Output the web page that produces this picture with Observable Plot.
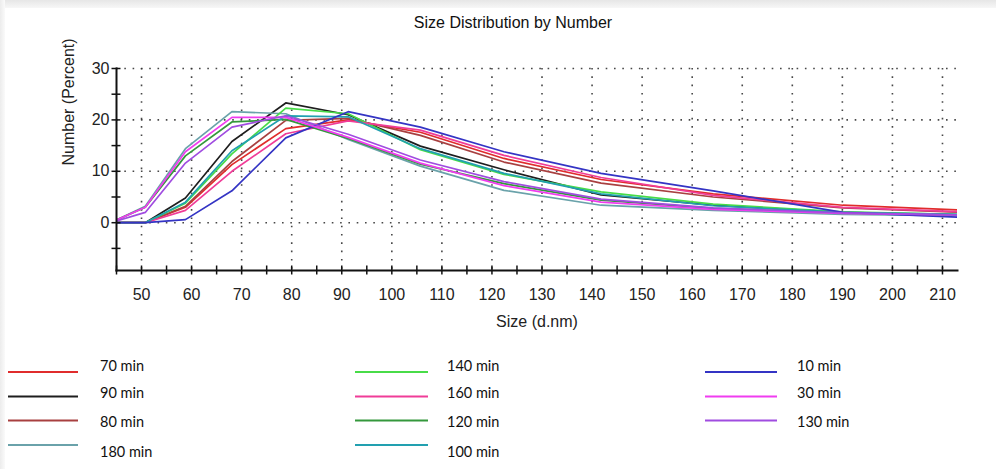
<!DOCTYPE html>
<html>
<head>
<meta charset="utf-8">
<script src="https://cdn.jsdelivr.net/npm/d3@7"></script>
<script src="https://cdn.jsdelivr.net/npm/@observablehq/plot@0.6"></script>
<style>
  html, body { margin: 0; padding: 0; background: #fff; width: 996px; height: 469px; overflow: hidden; }
  #topband { position: absolute; left: 0; top: 0; width: 996px; height: 8px; background: linear-gradient(#e6e6e6, #f7f7f7); }
  #leftband { position: absolute; left: 0; top: 0; width: 5px; height: 469px; background: linear-gradient(90deg, #ececec, #fafafa); }
  #chart { position: absolute; left: 0; top: 0; }
  #legend { position: absolute; left: 0; top: 340px; }
</style>
</head>
<body>
<div id="topband"></div>
<div id="leftband"></div>
<div id="chart"></div>
<div id="legend"></div>
<script>
// Size bins (d.nm)
const sizes = [43.82, 50.75, 58.77, 68.06, 78.82, 91.28, 105.7, 122.4, 141.8, 164.2, 190.1, 220.2];

// Number (%) per series
const min70  = [0, 0, 3.0, 11.3, 18.3, 20.0, 17.6, 12.5, 8.4, 5.6, 3.4, 2.2];
const min90  = [0, 0, 4.8, 15.8, 23.3, 21.0, 14.9, 10.3, 5.4, 3.4, 2.0, 1.4];
const min80  = [0, 0, 3.2, 11.9, 19.9, 20.3, 17.0, 11.8, 7.7, 5.0, 2.9, 1.8];
const min180 = [0, 3.2, 14.4, 21.6, 21.2, 16.2, 11.0, 6.3, 3.4, 2.4, 1.6, 1.3];
const min140 = [0, 0, 3.8, 13.4, 22.3, 21.2, 14.2, 9.4, 6.0, 3.6, 2.1, 1.5];
const min160 = [0, 0, 2.4, 10.0, 17.3, 19.8, 18.0, 13.1, 8.8, 5.3, 3.0, 1.9];
const min120 = [0, 3.0, 13.0, 19.6, 20.1, 16.4, 11.4, 7.6, 4.4, 2.8, 1.9, 1.4];
const min100 = [0, 0, 4.0, 14.0, 20.8, 20.6, 14.4, 9.6, 5.6, 3.3, 2.0, 1.5];
const min10  = [0, 0, 0.6, 6.2, 16.5, 21.6, 18.6, 13.8, 9.6, 6.2, 2.0, 0.8];
const min30  = [0, 3.0, 13.8, 20.5, 20.5, 16.6, 11.6, 7.2, 4.0, 2.6, 1.8, 1.4];
const min130 = [0, 2.0, 11.6, 18.6, 20.8, 17.2, 12.2, 8.0, 4.6, 2.9, 1.9, 1.4];

const seriesNames = ["70 min", "90 min", "80 min", "180 min", "140 min", "160 min", "120 min", "100 min", "10 min", "30 min", "130 min"];
const seriesValues = [min70, min90, min80, min180, min140, min160, min120, min100, min10, min30, min130];
const seriesColors = ["#e02c2c", "#1e1e1e", "#a84040", "#6aa2aa", "#48dc48", "#f03c98", "#34983c", "#22a0b0", "#3434c4", "#f03cf0", "#a04ce0"];

const xTickLabels = [50, 60, 70, 80, 90, 100, 110, 120, 130, 140, 150, 160, 170, 180, 190, 200, 210];
const yTickLabels = [0, 10, 20, 30];

const data = [];
seriesNames.forEach((name, i) => {
  seriesValues[i].forEach((v, j) => data.push({series: name, size: sizes[j], value: v}));
});

const font = "'Liberation Sans', Arial, sans-serif";
const xDomain = [45, 213];
const yDomain = [-9.3, 30];
const xMinor = d3.range(45, 213.1, 5);
const yMinor = d3.range(-5, 30.1, 5);

const chart = Plot.plot({
  width: 996,
  height: 340,
  marginLeft: 116,
  marginRight: 39,
  marginTop: 68,
  marginBottom: 70,
  style: {fontFamily: font, fontSize: "16px", color: "#222", background: "transparent"},
  x: {domain: xDomain},
  y: {domain: yDomain},
  color: {domain: seriesNames, range: seriesColors},
  marks: [
    Plot.gridX(xTickLabels, {stroke: "#333", strokeOpacity: 0.9, strokeWidth: 1.6, strokeDasharray: "1.6,6.7"}),
    Plot.gridY(yTickLabels, {stroke: "#333", strokeOpacity: 0.9, strokeWidth: 1.6, strokeDasharray: "1.6,6.7"}),
    Plot.line(data, {x: "size", y: "value", z: "series", stroke: "series", strokeWidth: 1.7, clip: true}),
    Plot.frame({anchor: "left", stroke: "#111", strokeWidth: 2}),
    Plot.frame({anchor: "bottom", stroke: "#111", strokeWidth: 2}),
    Plot.axisX({ticks: xMinor, tickSize: 9, dy: -4.5, tickFormat: () => "", stroke: "#111", strokeWidth: 1.5, label: null}),
    Plot.axisY({ticks: yMinor, tickSize: 9, dx: 4.5, tickFormat: () => "", stroke: "#111", strokeWidth: 1.5, label: null}),
    Plot.axisX({ticks: xTickLabels, tickSize: 0, tickPadding: 18, fontSize: 16, label: null}),
    Plot.axisY({ticks: yTickLabels, tickSize: 0, tickPadding: 7, fontSize: 16, label: null}),
    Plot.text(["Size (d.nm)"], {frameAnchor: "bottom", dy: 56, fontSize: 16, fill: "#222"}),
    Plot.text(["Number (Percent)"], {frameAnchor: "left", dx: -48, dy: -4, rotate: -90, fontSize: 16, fill: "#222"}),
    Plot.text(["Size Distribution by Number"], {frameAnchor: "top", dx: -24, dy: -52, fontSize: 16, fill: "#111"})
  ]
});
document.getElementById("chart").appendChild(chart);

// Legend (3 columns x 4 rows, column-major)
const legendCols = [{x1: 8, x2: 78, tx: 100}, {x1: 355, x2: 428, tx: 447}, {x1: 705, x2: 777, tx: 797}];
const lineRowsY = [32, 56.5, 80.5, 105];
const textRowsY = [25.7, 53.3, 82.3, 111.7];
const lsvg = d3.select("#legend").append("svg").attr("width", 996).attr("height", 129)
  .style("font-family", "Lato, 'Open Sans', sans-serif").style("font-size", "14.5px");
seriesNames.forEach((name, i) => {
  const c = legendCols[Math.floor(i / 4)], r = i % 4;
  lsvg.append("line").attr("x1", c.x1).attr("x2", c.x2).attr("y1", lineRowsY[r]).attr("y2", lineRowsY[r])
    .attr("stroke", seriesColors[i]).attr("stroke-width", 2.2);
  lsvg.append("text").attr("x", c.tx).attr("y", textRowsY[r]).attr("dy", "0.35em")
    .attr("fill", "#111").text(name);
});
</script>
</body>
</html>
